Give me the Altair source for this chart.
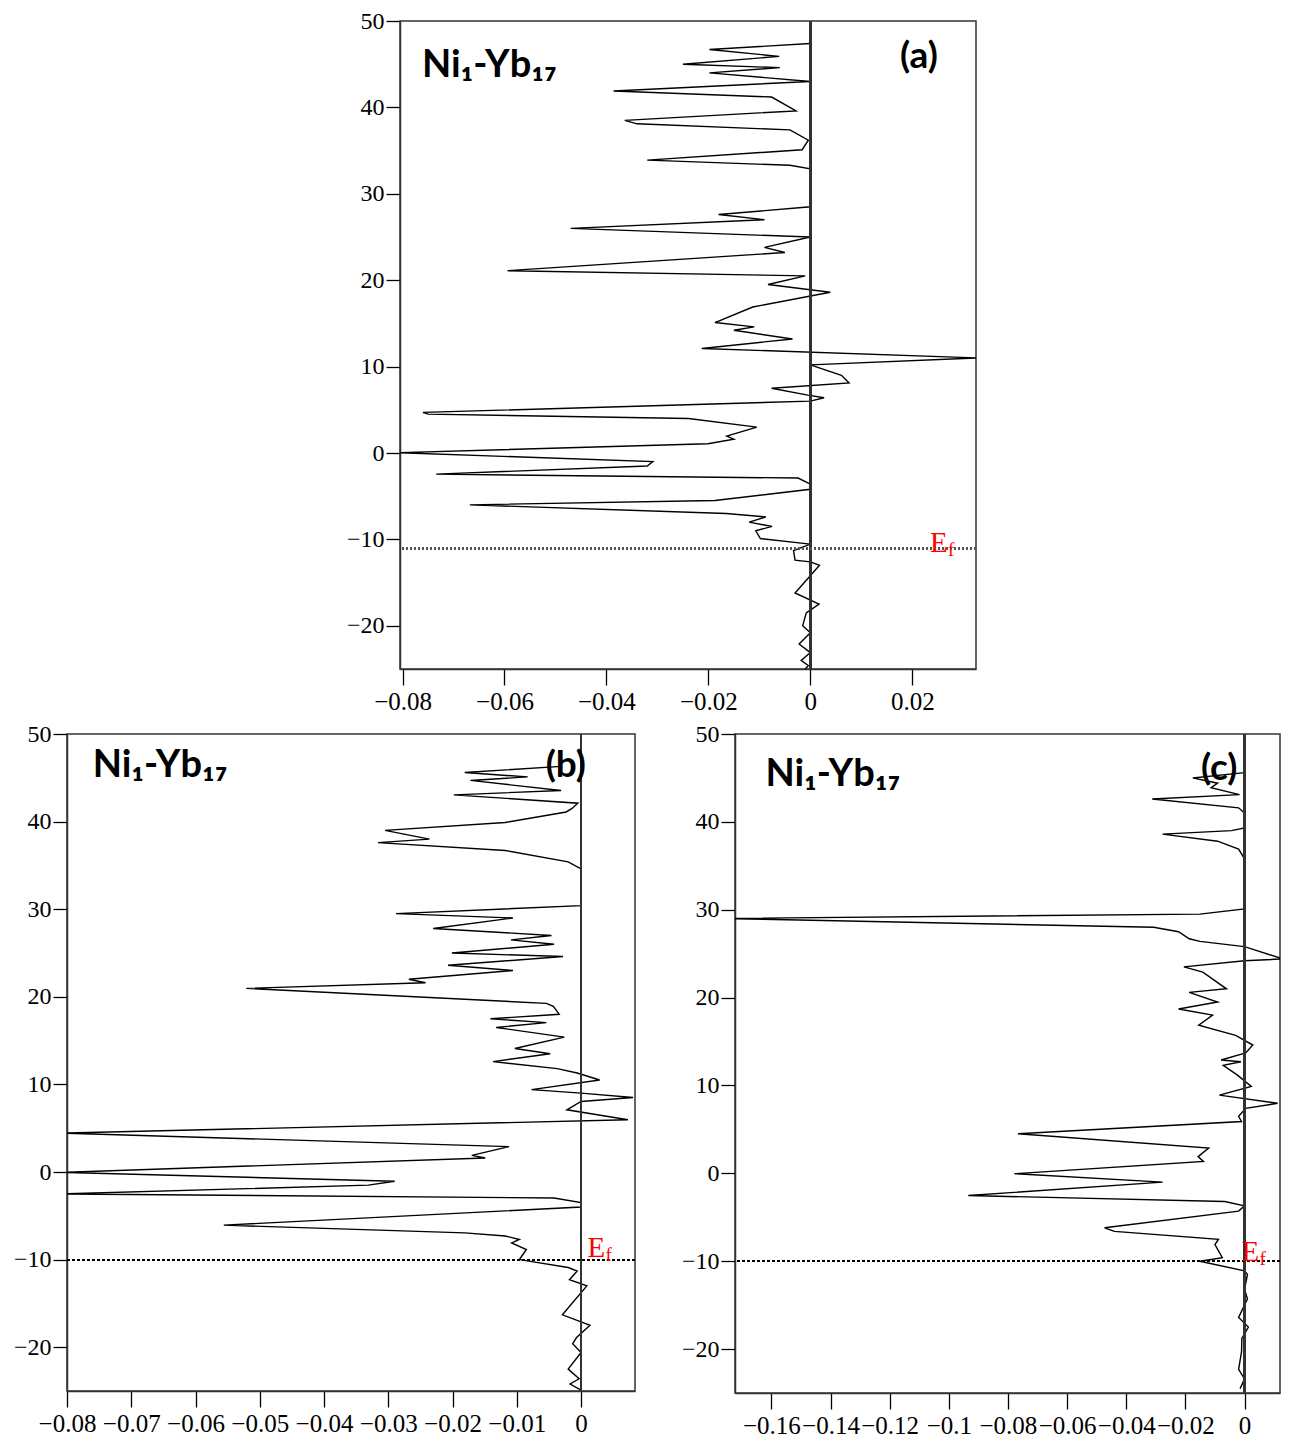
import altair as alt
import pandas as pd

# ---------------- data (energy on y, DOS on x) ----------------
a_E = [47.4, 46.7, 45.9, 45.0, 44.6, 44.0, 43.0, 41.9, 41.2, 39.6, 38.5, 38.1, 37.4, 36.2, 35.1,
       33.9, 33.3, 32.9, 28.5, 27.6, 27.0, 26.0, 25.0, 23.8, 23.2, 21.1, 20.5, 19.5, 18.6, 16.9,
       15.1, 14.6, 14.2, 13.2, 12.1, 11.0, 10.2, 9.0, 8.1, 7.5, 6.7, 6.4, 6.0, 4.7, 4.5, 4.0, 3.0,
       1.95, 1.6, 1.07, 0.04, -1.0, -1.5, -2.45, -2.9, -3.6, -4.2, -5.5, -6.0, -7.0, -7.4, -8.0,
       -8.5, -9.0, -9.9, -10.55, -11.3, -12.4, -12.6, -13.0, -16.2, -17.5, -18.5, -20.0, -20.8,
       -22.1, -23.1, -24.0, -24.6, -25.0]
a_dos = [0.0, -0.0198, -0.0061, -0.025, -0.006, -0.0198, 0.0, -0.0386, -0.0076, -0.0028, -0.0364,
         -0.034, -0.004, -0.0004, -0.0016, -0.032, -0.004, 0.0, 0.0, -0.018, -0.009, -0.047, 0.0,
         -0.009, -0.005, -0.0594, -0.001, -0.0083, 0.0039, -0.0113, -0.0187, -0.011, -0.015,
         -0.0035, -0.0213, 0.0330, 0.0, 0.0061, 0.0076, -0.0076, -0.0005, 0.0027, 0.0, -0.076,
         -0.075, -0.0239, -0.0105, -0.0164, -0.015, -0.0201, -0.081, -0.0309, -0.032, -0.0734,
         -0.0024, 0.0, 0.0, -0.0187, -0.0668, -0.0165, -0.0087, -0.012, -0.0075, -0.0107, -0.0098,
         0.0, -0.0033, -0.003, 0.0, 0.0018, -0.003, 0.0017, -0.0008, -0.0015, 0.0, -0.0022, 0.0,
         -0.0018, -0.0004, -0.001]

b_E = [46.3, 45.6, 45.1, 44.7, 43.55, 43.05, 42.1, 41.5, 41.1, 39.9, 39.0, 38.0, 37.6, 36.7, 35.4,
       34.6, 30.4, 29.5, 29.0, 27.8, 27.0, 26.5, 26.0, 25.0, 24.6, 23.6, 23.0, 22.0, 21.6, 20.96,
       19.25, 18.9, 18.0, 17.5, 17.05, 16.5, 15.4, 14.1, 13.5, 12.6, 11.8, 11.3, 10.5, 9.4, 9.0,
       8.5, 8.05, 7.1, 5.96, 4.44, 2.9, 1.9, 1.6, -0.04, -1.06, -1.5, -2.5, -2.97, -3.5, -4.0,
       -6.07, -6.95, -7.3, -7.7, -8.1, -8.85, -10.0, -10.9, -11.3, -12.3, -13.0, -16.3, -17.5,
       -18.9, -19.6, -20.6, -22.5, -23.6, -24.2, -24.9]
b_dos = [-0.0031, -0.0181, -0.0083, -0.0172, -0.0031, -0.0198, -0.0005, -0.0014, -0.0023, -0.0118,
         -0.0305, -0.0236, -0.0316, -0.0118, -0.002, 0.0, 0.0, -0.0288, -0.0106, -0.023, -0.0046,
         -0.0109, -0.0042, -0.0201, -0.0028, -0.0207, -0.0106, -0.0268, -0.0242, -0.0521, -0.0054,
         -0.0043, -0.0034, -0.0141, -0.0054, -0.0132, -0.0026, -0.0103, -0.0048, -0.0137, -0.0037,
         -0.0006, 0.0029, -0.0077, 0.0, 0.0081, 0.0, -0.0022, 0.0073, -0.0805, -0.0112, -0.017,
         -0.0149, -0.0805, -0.029, -0.0331, -0.0805, -0.0042, 0.0, 0.0, -0.0556, -0.0181, -0.0118,
         -0.0096, -0.0108, -0.0085, -0.0096, -0.002, -0.0006, -0.0018, 0.0009, -0.0029, 0.0014,
         -0.0007, -0.0013, 0.0, -0.002, -0.0003, -0.0017, 0.0]

c_E = [45.6, 45.0, 44.4, 43.9, 43.1, 42.6, 41.6, 41.0, 39.3, 39.0, 38.6, 37.8, 36.9, 35.8, 30.1,
       29.5, 29.0, 28.0, 27.5, 26.7, 26.4, 25.8, 24.4, 24.2, 23.5, 22.9, 21.0, 20.6, 19.5, 18.7,
       18.0, 16.85, 15.7, 14.6, 13.7, 12.9, 12.7, 12.3, 11.2, 9.9, 8.9, 7.97, 7.4, 6.5, 5.9, 4.5,
       2.87, 1.9, 1.35, -0.04, -1.0, -2.53, -3.2, -3.7, -4.3, -6.2, -6.6, -7.5, -8.1, -9.6, -10.0,
       -11.1, -11.5, -13.2, -14.3, -16.4, -17.5, -18.8, -20.3, -22.3, -23.4, -24.5]
c_dos = [0.0, -0.0175, -0.0091, -0.0113, -0.0017, -0.0312, -0.002, 0.0, 0.0, -0.0044, -0.0277,
         -0.0091, -0.002, 0.0, 0.0, -0.0151, -0.176, -0.0307, -0.0223, -0.0187, -0.0151, 0.0,
         0.013, 0.0, -0.0205, -0.0141, -0.0061, -0.0187, -0.0091, -0.0223, -0.0108, -0.0155,
         -0.003, 0.0028, 0.0004, -0.0079, -0.0012, -0.0072, -0.0025, 0.0023, -0.0085, 0.0112,
         0.0004, -0.002, -0.001, -0.0766, -0.0121, -0.0157, -0.0139, -0.0778, -0.0277, -0.0934,
         -0.0067, 0.0, -0.002, -0.0473, -0.044, -0.0088, -0.01, -0.0075, -0.0151, 0.0, 0.001, 0.0,
         0.001, -0.002, 0.0013, -0.0009, -0.001, -0.002, 0.0, -0.0015]

y_ticks = [-20, -10, 0, 10, 20, 30, 40, 50]
a_xticks = [-0.08, -0.06, -0.04, -0.02, 0, 0.02]
b_xticks = [-0.08, -0.07, -0.06, -0.05, -0.04, -0.03, -0.02, -0.01, 0]
c_xticks = [-0.16, -0.14, -0.12, -0.1, -0.08, -0.06, -0.04, -0.02, 0]

a_Ef, b_Ef, c_Ef = -11.1, -10.0, -10.0
system_label = "Ni₁-Yb₁₇"
panel_labels = ["(a)", "(b)", "(c)"]

SERIF = "Liberation Serif, Times New Roman, serif"
BOLD = "Lato, Open Sans, sans-serif"


def panel(E, dos, xdom, xticks, ef, tag, w, h, sys_pos, tag_pos, e_pos, dotted):
    xs = alt.Scale(domain=xdom, nice=False, zero=False)
    ys = alt.Scale(domain=[-25, 50], nice=False, zero=False)
    xax = alt.Axis(values=xticks, format=".2~f", title=None, grid=False, tickSize=16,
                   labelPadding=4, labelFontSize=25, labelFont=SERIF, labelColor="black",
                   tickColor="black", tickWidth=1.3, domainColor="#333", domainWidth=1.5,
                   labelFlush=False, labelOverlap=False)
    yax = alt.Axis(values=y_ticks, format="d", title=None, grid=False, tickSize=14,
                   labelPadding=2, labelFontSize=24, labelFont=SERIF, labelColor="black",
                   tickColor="black", tickWidth=1.3, domainColor="#333", domainWidth=1.5,
                   labelFlush=False, labelOverlap=False)
    df = pd.DataFrame({"E": E, "dos": dos, "i": list(range(len(E)))})
    line = alt.Chart(df).mark_line(color="black", strokeWidth=1.4, clip=True).encode(
        x=alt.X("dos:Q", scale=xs, axis=xax),
        y=alt.Y("E:Q", scale=ys, axis=yax),
        order=alt.Order("i:Q"),
    )
    zero = alt.Chart(df).mark_rule(color="#333", strokeWidth=1.5).encode(
        x=alt.datum(0, scale=xs))
    if dotted:
        ef_rule = alt.Chart(df).mark_rule(color="#555", strokeWidth=2.2, strokeDash=[2, 2]).encode(
            y=alt.datum(ef, scale=ys))
    else:
        ef_rule = alt.Chart(df).mark_rule(color="black", strokeWidth=1.2, strokeDash=[3, 2]).encode(
            y=alt.datum(ef, scale=ys))
    sys_t = alt.Chart(pd.DataFrame({"x": [sys_pos[0]], "y": [sys_pos[1]], "t": [system_label]})).mark_text(
        font=BOLD, fontWeight="bold", fontSize=38, align="left", baseline="alphabetic", color="black"
    ).encode(x=alt.X("x:Q", scale=xs), y=alt.Y("y:Q", scale=ys), text="t:N")
    tag_t = alt.Chart(pd.DataFrame({"x": [tag_pos[0]], "y": [tag_pos[1]], "t": [tag]})).mark_text(
        font=BOLD, fontWeight="bold", fontSize=37, align="left", baseline="alphabetic", color="black"
    ).encode(x=alt.X("x:Q", scale=xs), y=alt.Y("y:Q", scale=ys), text="t:N")
    e_df = pd.DataFrame({"x": [e_pos[0]], "y": [e_pos[1]], "t": ["E"], "s": ["f"]})
    e_t = alt.Chart(e_df).mark_text(font=SERIF, fontSize=29, align="left", baseline="alphabetic",
                                    color="red").encode(
        x=alt.X("x:Q", scale=xs), y=alt.Y("y:Q", scale=ys), text="t:N")
    f_t = alt.Chart(e_df).mark_text(font=SERIF, fontSize=19, align="left", baseline="alphabetic",
                                    color="red", dx=18, dy=4).encode(
        x=alt.X("x:Q", scale=xs), y=alt.Y("y:Q", scale=ys), text="s:N")
    return alt.layer(line, zero, ef_rule, sys_t, tag_t, e_t, f_t).properties(width=w, height=h)


pa = panel(a_E, a_dos, [-0.0805, 0.0325], a_xticks, a_Ef, panel_labels[0], 576, 648,
           (-0.0762, 43.5), (0.0176, 44.6), (0.0235, -11.5), True)
pb = panel(b_E, b_dos, [-0.08, 0.0084], b_xticks, b_Ef, panel_labels[1], 568, 657,
           (-0.0760, 45.1), (-0.0055, 45.1), (0.0010, -9.7), False)
pc = panel(c_E, c_dos, [-0.1723, 0.0120], c_xticks, c_Ef, panel_labels[2], 545, 659,
           (-0.162, 44.1), (-0.0147, 44.8), (-0.001, -10.0), False)

spacer = alt.Chart(pd.DataFrame({"v": [0]})).mark_point(opacity=0, size=1).encode(
    x=alt.value(0), y=alt.value(0)
).properties(width=277, height=10, view=alt.ViewBackground(stroke="transparent"))

top = alt.hconcat(spacer, pa, spacing=0)
bottom = alt.hconcat(pb, pc, spacing=43)

chart = alt.vconcat(top, bottom, spacing=6, padding={"left": 4, "top": 0, "right": 0, "bottom": 0}
                    ).configure_view(stroke="#333", strokeWidth=1.5
                    ).configure_axis(labelFont=SERIF)

chart.save("out.html", embed_options={"renderer": "svg", "actions": False})
